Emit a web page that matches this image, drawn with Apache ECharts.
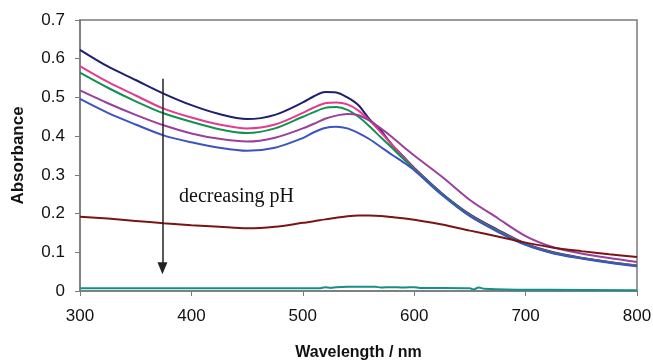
<!DOCTYPE html>
<html>
<head>
<meta charset="utf-8">
<script src="https://cdn.jsdelivr.net/npm/echarts@6/dist/echarts.min.js"></script>
<style>
  html, body { margin: 0; padding: 0; background: #fff; }
  #chart { width: 653px; height: 362px; }
</style>
</head>
<body>
<div id="chart"></div>
<script>
// wavelength grid (nm) shared by the six main spectra
var wavelengths = [300, 325, 350, 375, 400, 425, 450, 475, 500, 510, 520, 530, 540, 550,
                   560, 570, 580, 590, 600, 625, 650, 675, 700, 725, 750, 775, 800];

var navy   = [0.623, 0.580, 0.545, 0.510, 0.480, 0.457, 0.444, 0.455, 0.487, 0.503, 0.514, 0.513, 0.500, 0.480,
              0.443, 0.415, 0.378, 0.348, 0.318, 0.252, 0.198, 0.158, 0.122, 0.100, 0.086, 0.075, 0.066];
var pink   = [0.581, 0.540, 0.505, 0.471, 0.448, 0.430, 0.420, 0.430, 0.460, 0.474, 0.485, 0.487, 0.482, 0.466,
              0.440, 0.410, 0.378, 0.346, 0.316, 0.250, 0.196, 0.156, 0.121, 0.099, 0.085, 0.074, 0.066];
var green  = [0.564, 0.525, 0.490, 0.459, 0.437, 0.418, 0.408, 0.420, 0.450, 0.462, 0.473, 0.475, 0.468, 0.450,
              0.425, 0.397, 0.370, 0.342, 0.314, 0.250, 0.195, 0.155, 0.120, 0.098, 0.085, 0.074, 0.065];
var purple = [0.518, 0.485, 0.455, 0.428, 0.407, 0.393, 0.386, 0.396, 0.420, 0.432, 0.445, 0.453, 0.457, 0.454,
              0.440, 0.420, 0.398, 0.373, 0.350, 0.295, 0.235, 0.188, 0.142, 0.113, 0.097, 0.085, 0.075];
var blue   = [0.496, 0.460, 0.430, 0.402, 0.384, 0.370, 0.362, 0.370, 0.395, 0.410, 0.421, 0.424, 0.420, 0.408,
              0.392, 0.372, 0.352, 0.333, 0.312, 0.248, 0.193, 0.153, 0.119, 0.097, 0.084, 0.073, 0.064];
var red    = [0.192, 0.187, 0.181, 0.175, 0.170, 0.166, 0.162, 0.166, 0.176, 0.180, 0.185, 0.189, 0.193, 0.195,
              0.195, 0.194, 0.191, 0.188, 0.184, 0.172, 0.156, 0.141, 0.125, 0.112, 0.103, 0.095, 0.088];

// lowest-pH spectrum, flat with a little noise
var tealWl = [300, 400, 515, 520, 525, 530, 540, 565, 570, 580, 590, 600, 605, 650, 653, 658, 663, 700, 720, 800];
var teal   = [0.007, 0.007, 0.007, 0.010, 0.008, 0.010, 0.011, 0.011, 0.009, 0.010, 0.009, 0.010, 0.008,
              0.007, 0.004, 0.009, 0.006, 0.003, 0.003, 0.002];

// arrow annotation (data coordinates)
var arrowFrom = [374, 0.548];
var arrowTo = [374, 0.059];

function pairs(xs, ys) {
  return xs.map(function (x, i) { return [x, ys[i]]; });
}

function spectrum(name, color, xs, ys) {
  return {
    name: name,
    type: 'line',
    data: pairs(xs, ys),
    smooth: 0.3,
    showSymbol: false,
    symbol: 'none',
    lineStyle: { color: color, width: 2 },
    z: 3
  };
}

var chart = echarts.init(document.getElementById('chart'), null, { renderer: 'canvas' });

var series = [
  spectrum('s1', '#1f1f70', wavelengths, navy),
  spectrum('s2', '#e63a8e', wavelengths, pink),
  spectrum('s3', '#12914f', wavelengths, green),
  spectrum('s4', '#9a3f9c', wavelengths, purple),
  spectrum('s5', '#3a55c2', wavelengths, blue),
  spectrum('s6', '#7c1414', wavelengths, red),
  spectrum('s7', '#14908c', tealWl, teal),
  {
    name: 'arrow',
    type: 'line',
    data: [],
    markLine: {
      silent: true,
      symbol: ['none', 'triangle'],
      symbolSize: [10, 12],
      label: { show: false },
      lineStyle: { color: '#222', width: 1.5, type: 'solid' },
      data: [[{ coord: arrowFrom }, { coord: arrowTo }]]
    }
  }
];

chart.setOption({
  animation: false,
  grid: {
    left: 80, right: 16, top: 20, bottom: 71,
    containLabel: false,
    outerBoundsMode: 'none',
    show: true, borderColor: '#7a7a7a', borderWidth: 1.5
  },
  xAxis: {
    type: 'value',
    min: 300, max: 800, interval: 100,
    name: 'Wavelength / nm',
    nameLocation: 'middle',
    nameGap: 54,
    nameTextStyle: { fontFamily: 'Liberation Sans', fontWeight: 'bold', fontSize: 16, color: '#111' },
    axisLine: { lineStyle: { color: '#7a7a7a', width: 1.5 } },
    axisTick: { show: true, inside: false, length: 5, lineStyle: { color: '#7a7a7a' } },
    axisLabel: { fontFamily: 'Liberation Sans', fontSize: 17, color: '#111', margin: 17 },
    splitLine: { show: false }
  },
  yAxis: {
    type: 'value',
    min: 0, max: 0.7, interval: 0.1,
    name: 'Absorbance',
    nameLocation: 'middle',
    nameGap: 53,
    nameTextStyle: { fontFamily: 'Liberation Sans', fontWeight: 'bold', fontSize: 17, color: '#111' },
    axisLine: { show: true, lineStyle: { color: '#7a7a7a', width: 1.5 } },
    axisTick: { show: true, inside: false, length: 5, lineStyle: { color: '#7a7a7a' } },
    axisLabel: {
      fontFamily: 'Liberation Sans', fontSize: 17, color: '#111', margin: 15,
      formatter: function (v) { return v === 0 ? '0' : v.toFixed(1); }
    },
    splitLine: { show: false }
  },
  graphic: [{
    type: 'text',
    left: 179,
    top: 187,
    style: { text: 'decreasing pH', font: '20px "Liberation Serif"', fill: '#111' }
  }],
  series: series
});
</script>
</body>
</html>
